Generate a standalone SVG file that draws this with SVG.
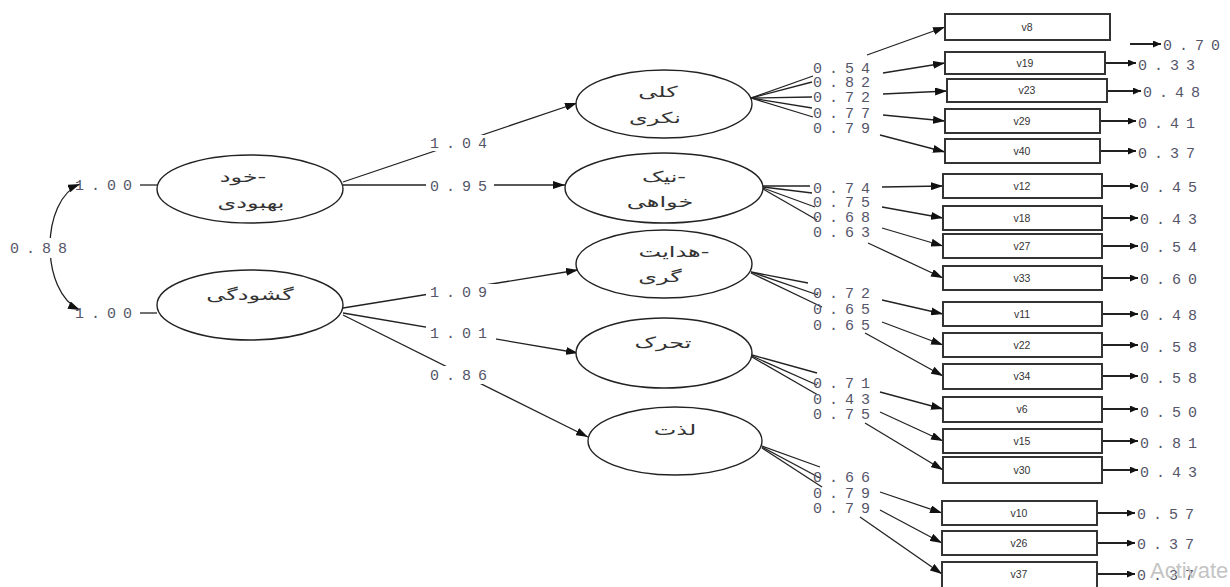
<svg xmlns="http://www.w3.org/2000/svg" width="1230" height="587" viewBox="0 0 1230 587">
<style>
.ell{fill:#fff;stroke:#222;stroke-width:1.4}
.box{fill:#fff;stroke:#333;stroke-width:2}
.ln{fill:none;stroke:#222;stroke-width:1.3}
.arr{fill:none;stroke:#222;stroke-width:1.3;marker-end:url(#ah)}
.res{fill:none;stroke:#222;stroke-width:2;marker-end:url(#rh)}
.num{font-family:"Liberation Mono","DejaVu Sans Mono",monospace;font-size:15px;letter-spacing:7px;fill:#55556a}
.fa{font-family:"DejaVu Sans","Noto Sans",sans-serif;font-size:15px;fill:#333;text-anchor:middle}
.vt{font-family:"Liberation Sans",Arial,sans-serif;font-size:10.5px;fill:#333;text-anchor:middle}
.bg{fill:#fff}
</style>
<defs>
<marker id="ah" viewBox="0 0 12 8" refX="12" refY="4" markerWidth="12" markerHeight="8" markerUnits="userSpaceOnUse" orient="auto-start-reverse"><path d="M0,0 L12,4 L0,8 z" fill="#111"/></marker>
<marker id="rh" viewBox="0 0 8 7" refX="8" refY="3.5" markerWidth="8" markerHeight="7" markerUnits="userSpaceOnUse" orient="auto"><path d="M0,0 L8,3.5 L0,7 z" fill="#111"/></marker>
</defs>
<rect width="1230" height="587" fill="#fff"/>

<g id="connectors">
  <path class="ln" d="M80,184 C40,200 40,292 80,310" marker-start="url(#ah)" marker-end="url(#ah)"/>
  <rect class="bg" x="8" y="238" width="66" height="20"/>
  <text class="num" x="10" y="253">0.88</text>
  <line class="ln" x1="140" y1="185" x2="157" y2="185"/>
  <line class="ln" x1="140" y1="313" x2="157" y2="313"/>
  <text class="num" x="75" y="190">1.00</text>
  <text class="num" x="75" y="318">1.00</text>

  <line class="arr" x1="343" y1="182" x2="577" y2="103"/>
  <rect class="bg" x="426" y="135" width="68" height="16"/>
  <text class="num" x="430" y="148">1.04</text>
  <line class="arr" x1="343" y1="185" x2="565" y2="185"/>
  <rect class="bg" x="426" y="178" width="68" height="16"/>
  <text class="num" x="430" y="191">0.95</text>
  <line class="arr" x1="343" y1="308" x2="578" y2="270"/>
  <rect class="bg" x="426" y="284" width="70" height="16"/>
  <text class="num" x="430" y="297">1.09</text>
  <line class="arr" x1="343" y1="313" x2="578" y2="353"/>
  <rect class="bg" x="426" y="325" width="70" height="16"/>
  <text class="num" x="430" y="338">1.01</text>
  <line class="arr" x1="343" y1="315" x2="588" y2="437"/>
  <rect class="bg" x="426" y="366" width="70" height="18"/>
  <text class="num" x="430" y="380">0.86</text>

  <polyline class="ln" points="751,98 813,76"/>
  <polyline class="ln" points="751,98 812,82"/>
  <polyline class="ln" points="751,98 812,97"/>
  <polyline class="ln" points="751,98 812,108"/>
  <polyline class="ln" points="751,98 813,117"/>
  <line class="arr" x1="867" y1="55" x2="945" y2="27"/>
  <line class="arr" x1="883" y1="73" x2="945" y2="63"/>
  <line class="arr" x1="883" y1="94" x2="947" y2="91"/>
  <line class="arr" x1="883" y1="115" x2="945" y2="121"/>
  <line class="arr" x1="880" y1="135" x2="945" y2="152"/>
  <text class="num" x="813" y="73">0.54</text>
  <text class="num" x="813" y="87">0.82</text>
  <text class="num" x="813" y="102">0.72</text>
  <text class="num" x="813" y="118">0.77</text>
  <text class="num" x="813" y="133">0.79</text>

  <polyline class="ln" points="763,186 810,186"/>
  <polyline class="ln" points="763,187 812,193"/>
  <polyline class="ln" points="763,188 815,207"/>
  <polyline class="ln" points="763,189 817,220"/>
  <line class="arr" x1="882" y1="187" x2="943" y2="186"/>
  <line class="arr" x1="882" y1="207" x2="943" y2="218"/>
  <line class="arr" x1="882" y1="228" x2="943" y2="246"/>
  <line class="arr" x1="868" y1="243" x2="943" y2="278"/>
  <text class="num" x="813" y="193">0.74</text>
  <text class="num" x="813" y="207">0.75</text>
  <text class="num" x="813" y="222">0.68</text>
  <text class="num" x="813" y="237">0.63</text>

  <polyline class="ln" points="751,272 808,283"/>
  <polyline class="ln" points="751,272 818,295"/>
  <polyline class="ln" points="751,273 822,307"/>
  <line class="arr" x1="882" y1="300" x2="943" y2="314"/>
  <line class="arr" x1="882" y1="322" x2="943" y2="345"/>
  <line class="arr" x1="865" y1="333" x2="943" y2="376"/>
  <text class="num" x="813" y="298">0.72</text>
  <text class="num" x="813" y="314">0.65</text>
  <text class="num" x="813" y="330">0.65</text>

  <polyline class="ln" points="752,355 817,373"/>
  <polyline class="ln" points="752,356 817,385"/>
  <polyline class="ln" points="752,357 818,395"/>
  <line class="arr" x1="880" y1="392" x2="943" y2="409"/>
  <line class="arr" x1="880" y1="412" x2="943" y2="441"/>
  <line class="arr" x1="865" y1="423" x2="943" y2="470"/>
  <text class="num" x="813" y="388">0.71</text>
  <text class="num" x="813" y="404">0.43</text>
  <text class="num" x="813" y="419">0.75</text>

  <polyline class="ln" points="762,446 820,467"/>
  <polyline class="ln" points="762,447 820,478"/>
  <polyline class="ln" points="762,448 822,487"/>
  <line class="arr" x1="880" y1="492" x2="942" y2="513"/>
  <line class="arr" x1="880" y1="510" x2="942" y2="543"/>
  <line class="arr" x1="860" y1="517" x2="942" y2="574"/>
  <text class="num" x="813" y="482">0.66</text>
  <text class="num" x="813" y="498">0.79</text>
  <text class="num" x="813" y="513">0.79</text>

  <line class="res" x1="1130" y1="44" x2="1161" y2="44"/>
  <text class="num" x="1163" y="50">0.70</text>
  <line class="res" x1="1105" y1="63" x2="1136" y2="63"/>
  <text class="num" x="1138" y="70">0.33</text>
  <line class="res" x1="1107" y1="91" x2="1141" y2="91"/>
  <text class="num" x="1143" y="97">0.48</text>
  <line class="res" x1="1100" y1="121" x2="1136" y2="121"/>
  <text class="num" x="1138" y="128">0.41</text>
  <line class="res" x1="1100" y1="151" x2="1136" y2="151"/>
  <text class="num" x="1138" y="158">0.37</text>
  <line class="res" x1="1102" y1="186" x2="1138" y2="186"/>
  <text class="num" x="1140" y="192">0.45</text>
  <line class="res" x1="1102" y1="218" x2="1138" y2="218"/>
  <text class="num" x="1140" y="224">0.43</text>
  <line class="res" x1="1102" y1="246" x2="1138" y2="246"/>
  <text class="num" x="1140" y="252">0.54</text>
  <line class="res" x1="1102" y1="278" x2="1138" y2="278"/>
  <text class="num" x="1140" y="284">0.60</text>
  <line class="res" x1="1102" y1="314" x2="1138" y2="314"/>
  <text class="num" x="1140" y="320">0.48</text>
  <line class="res" x1="1102" y1="345" x2="1138" y2="345"/>
  <text class="num" x="1140" y="352">0.58</text>
  <line class="res" x1="1102" y1="376" x2="1138" y2="376"/>
  <text class="num" x="1140" y="383">0.58</text>
  <line class="res" x1="1102" y1="409" x2="1138" y2="409"/>
  <text class="num" x="1140" y="417">0.50</text>
  <line class="res" x1="1102" y1="441" x2="1138" y2="441"/>
  <text class="num" x="1140" y="448">0.81</text>
  <line class="res" x1="1102" y1="470" x2="1138" y2="470"/>
  <text class="num" x="1140" y="477">0.43</text>
  <line class="res" x1="1097" y1="513" x2="1135" y2="513"/>
  <text class="num" x="1137" y="519">0.57</text>
  <line class="res" x1="1097" y1="543" x2="1135" y2="543"/>
  <text class="num" x="1137" y="549">0.37</text>
  <line class="res" x1="1097" y1="574" x2="1135" y2="574"/>
  <text class="num" x="1137" y="580">0.37</text>
</g>

<g id="node-khod-behbudi">
  <ellipse class="ell" cx="250" cy="189" rx="93" ry="34"/>
  <text class="fa" transform="translate(243,182) scale(1.6,1)">&#x200E;خود-</text>
  <text class="fa" transform="translate(251,208) scale(1.6,1)">بهبودی</text>
</g>
<g id="node-goshudegi">
  <ellipse class="ell" cx="250" cy="305" rx="93" ry="35"/>
  <text class="fa" transform="translate(250,300) scale(1.6,1)">گشودگی</text>
</g>
<g id="node-kolli-negari">
  <ellipse class="ell" cx="664" cy="104" rx="88" ry="34"/>
  <text class="fa" transform="translate(658,97) scale(1.6,1)">کلی</text>
  <text class="fa" transform="translate(655,123) scale(1.6,1)">نکری</text>
</g>
<g id="node-nikkhahi">
  <ellipse class="ell" cx="664" cy="188" rx="99" ry="35"/>
  <text class="fa" transform="translate(664,182) scale(1.6,1)">&#x200E;نیک-</text>
  <text class="fa" transform="translate(660,207) scale(1.6,1)">خواهی</text>
</g>
<g id="node-hedayatgari">
  <ellipse class="ell" cx="664" cy="264" rx="88" ry="34"/>
  <text class="fa" transform="translate(674,257) scale(1.6,1)">&#x200E;هدایت-</text>
  <text class="fa" transform="translate(660,282) scale(1.6,1)">گری</text>
</g>
<g id="node-taharok">
  <ellipse class="ell" cx="664" cy="353" rx="88" ry="35"/>
  <text class="fa" transform="translate(663,348) scale(1.6,1)">تحرک</text>
</g>
<g id="node-lezzat">
  <ellipse class="ell" cx="675" cy="441" rx="87" ry="34"/>
  <text class="fa" transform="translate(675,435) scale(1.6,1)">لذت</text>
</g>

<g id="node-v8"><rect class="box" x="945" y="14" width="165" height="26"/><text class="vt" x="1027" y="31">v8</text></g>
<g id="node-v19"><rect class="box" x="945" y="52" width="160" height="22"/><text class="vt" x="1025" y="67">v19</text></g>
<g id="node-v23"><rect class="box" x="947" y="79" width="160" height="23"/><text class="vt" x="1027" y="94">v23</text></g>
<g id="node-v29"><rect class="box" x="945" y="109" width="155" height="24"/><text class="vt" x="1022" y="125">v29</text></g>
<g id="node-v40"><rect class="box" x="945" y="139" width="155" height="24"/><text class="vt" x="1022" y="155">v40</text></g>
<g id="node-v12"><rect class="box" x="943" y="174" width="159" height="24"/><text class="vt" x="1022" y="190">v12</text></g>
<g id="node-v18"><rect class="box" x="943" y="206" width="159" height="24"/><text class="vt" x="1022" y="222">v18</text></g>
<g id="node-v27"><rect class="box" x="943" y="234" width="159" height="24"/><text class="vt" x="1022" y="250">v27</text></g>
<g id="node-v33"><rect class="box" x="943" y="266" width="159" height="24"/><text class="vt" x="1022" y="282">v33</text></g>
<g id="node-v11"><rect class="box" x="943" y="302" width="159" height="24"/><text class="vt" x="1022" y="318">v11</text></g>
<g id="node-v22"><rect class="box" x="943" y="333" width="159" height="24"/><text class="vt" x="1022" y="349">v22</text></g>
<g id="node-v34"><rect class="box" x="943" y="364" width="159" height="25"/><text class="vt" x="1022" y="380">v34</text></g>
<g id="node-v6"><rect class="box" x="943" y="397" width="159" height="25"/><text class="vt" x="1022" y="413">v6</text></g>
<g id="node-v15"><rect class="box" x="943" y="429" width="159" height="24"/><text class="vt" x="1022" y="445">v15</text></g>
<g id="node-v30"><rect class="box" x="943" y="457" width="159" height="26"/><text class="vt" x="1022" y="474">v30</text></g>
<g id="node-v10"><rect class="box" x="942" y="501" width="155" height="24"/><text class="vt" x="1019" y="517">v10</text></g>
<g id="node-v26"><rect class="box" x="942" y="531" width="155" height="24"/><text class="vt" x="1019" y="547">v26</text></g>
<g id="node-v37"><rect class="box" x="942" y="562" width="155" height="30"/><text class="vt" x="1019" y="578">v37</text></g>

<text x="1150" y="578" font-family="'Liberation Sans',Arial,sans-serif" font-size="22" fill="#c4c4c4">Activate</text>
</svg>
